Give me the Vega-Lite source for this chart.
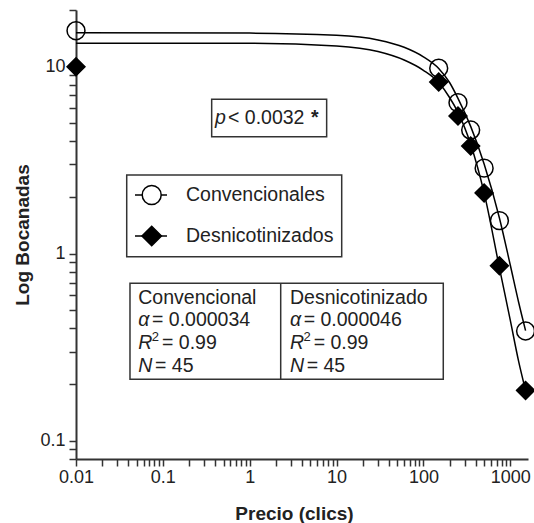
{
  "$schema": "https://vega.github.io/schema/vega-lite/v6.json",
  "width": 452,
  "height": 449,
  "autosize": {"type": "none"},
  "padding": {"left": 76, "top": 10, "right": 6, "bottom": 64},
  "background": "white",
  "config": {"view": {"stroke": null}, "font": "Liberation Sans"},
  "datasets": {
    "pts": [
      {"series": "Convencionales", "x": 0.01, "y": 15.5},
      {"series": "Convencionales", "x": 150, "y": 9.78},
      {"series": "Convencionales", "x": 250, "y": 6.4},
      {"series": "Convencionales", "x": 350, "y": 4.57},
      {"series": "Convencionales", "x": 500, "y": 2.86},
      {"series": "Convencionales", "x": 750, "y": 1.5},
      {"series": "Convencionales", "x": 1500, "y": 0.386},
      {"series": "Desnicotinizados", "x": 0.01, "y": 9.94},
      {"series": "Desnicotinizados", "x": 150, "y": 8.26},
      {"series": "Desnicotinizados", "x": 250, "y": 5.43},
      {"series": "Desnicotinizados", "x": 350, "y": 3.76},
      {"series": "Desnicotinizados", "x": 500, "y": 2.11},
      {"series": "Desnicotinizados", "x": 750, "y": 0.861},
      {"series": "Desnicotinizados", "x": 1500, "y": 0.186}
    ],
    "curves": [
      {"series": "Convencionales", "x": 0.01, "y": 15.1},
      {"series": "Convencionales", "x": 1, "y": 15.05},
      {"series": "Convencionales", "x": 10, "y": 14.66},
      {"series": "Convencionales", "x": 30, "y": 13.84},
      {"series": "Convencionales", "x": 60, "y": 12.65},
      {"series": "Convencionales", "x": 100, "y": 11.25},
      {"series": "Convencionales", "x": 150, "y": 9.75},
      {"series": "Convencionales", "x": 200, "y": 8.2},
      {"series": "Convencionales", "x": 250, "y": 6.75},
      {"series": "Convencionales", "x": 350, "y": 4.78},
      {"series": "Convencionales", "x": 500, "y": 3.01},
      {"series": "Convencionales", "x": 750, "y": 1.55},
      {"series": "Convencionales", "x": 1000, "y": 0.869},
      {"series": "Convencionales", "x": 1250, "y": 0.548},
      {"series": "Convencionales", "x": 1500, "y": 0.388},
      {"series": "Desnicotinizados", "x": 0.01, "y": 13.3},
      {"series": "Desnicotinizados", "x": 1, "y": 13.28},
      {"series": "Desnicotinizados", "x": 10, "y": 12.85},
      {"series": "Desnicotinizados", "x": 30, "y": 12.0},
      {"series": "Desnicotinizados", "x": 60, "y": 10.81},
      {"series": "Desnicotinizados", "x": 100, "y": 9.53},
      {"series": "Desnicotinizados", "x": 150, "y": 8.2},
      {"series": "Desnicotinizados", "x": 200, "y": 6.82},
      {"series": "Desnicotinizados", "x": 250, "y": 5.68},
      {"series": "Desnicotinizados", "x": 350, "y": 3.84},
      {"series": "Desnicotinizados", "x": 500, "y": 2.11},
      {"series": "Desnicotinizados", "x": 750, "y": 0.84},
      {"series": "Desnicotinizados", "x": 1000, "y": 0.441},
      {"series": "Desnicotinizados", "x": 1250, "y": 0.265},
      {"series": "Desnicotinizados", "x": 1500, "y": 0.186}
    ],
    "ital": [
      {"x": 0.3983, "y": 5.302, "t": "p"},
      {"x": 0.05214, "y": 0.4417, "t": "α"},
      {"x": 2.909, "y": 0.4417, "t": "α"},
      {"x": 0.05214, "y": 0.334, "t": "R"},
      {"x": 2.909, "y": 0.334, "t": "R"},
      {"x": 0.05214, "y": 0.2509, "t": "N"},
      {"x": 2.909, "y": 0.2509, "t": "N"}
    ],
    "reg": [
      {"x": 0.5623, "y": 5.302, "t": "< 0.0032"},
      {"x": 0.05214, "y": 0.577, "t": "Convencional"},
      {"x": 2.909, "y": 0.577, "t": "Desnicotinizado"},
      {"x": 0.075, "y": 0.4417, "t": "= 0.000034"},
      {"x": 4.18, "y": 0.4417, "t": "= 0.000046"},
      {"x": 0.0977, "y": 0.334, "t": "= 0.99"},
      {"x": 5.452, "y": 0.334, "t": "= 0.99"},
      {"x": 0.0812, "y": 0.2509, "t": "= 45"},
      {"x": 4.53, "y": 0.2509, "t": "= 45"},
      {"x": 0.1847, "y": 2.056, "t": "Convencionales"},
      {"x": 0.1847, "y": 1.2417, "t": "Desnicotinizados"}
    ],
    "sup": [
      {"x": 0.0744, "y": 0.334, "t": "2"},
      {"x": 4.15, "y": 0.334, "t": "2"}
    ],
    "bold": [
      {"x": 5.076, "y": 5.302, "t": "*"}
    ],
    "boxes": [
      {"x": 0.3649, "x2": 7.69, "y": 6.673, "y2": 4.212},
      {"x": 0.04184, "x2": 169.3, "y": 0.694, "y2": 0.2131},
      {"x": 0.03836, "x2": 11.46, "y": 2.63, "y2": 0.9625}
    ],
    "div": [{"x": 2.274, "y": 0.694, "y2": 0.2131}],
    "legline": [
      {"x": 0.04778, "x2": 0.1116, "y": 2.056},
      {"x": 0.04778, "x2": 0.1116, "y": 1.2417}
    ],
    "legconv": [{"x": 0.0744, "y": 2.056}],
    "legdesn": [{"x": 0.0744, "y": 1.2417}]
  },
  "encoding": {
    "x": {
      "field": "x", "type": "quantitative",
      "scale": {"type": "log", "domain": [0.01, 1600], "nice": false},
      "axis": {
        "values": [0.01,0.02,0.03,0.04,0.05,0.06,0.07,0.08,0.09,0.1,0.2,0.3,0.4,0.5,0.6,0.7,0.8,0.9,1,2,3,4,5,6,7,8,9,10,20,30,40,50,60,70,80,90,100,200,300,400,500,600,700,800,900,1000],
        "labelExpr": "indexof([0.01,0.1,1,10,100,1000], datum.value) >= 0 ? '' + datum.value : ''",
        "tickSize": 7,
        "encode": {"ticks": {"y2": {"condition": {"test": "indexof([0.01,0.1,1,10,100,1000], datum.value) >= 0", "value": 7}, "value": 5}}},
        "title": "Precio (clics)",
        "grid": false,
        "labelFont": "Liberation Sans", "labelFontSize": 18, "labelColor": "#222", "labelPadding": 2,
        "labelFlush": false, "labelOverlap": false,
        "tickColor": "#333", "tickWidth": 1.5, "domainColor": "#333", "domainWidth": 2,
        "titleFont": "Liberation Sans", "titleFontSize": 19, "titleFontWeight": "bold", "titleColor": "#222",
        "titleX": 218, "titleY": 54, "titleBaseline": "middle"
      }
    },
    "y": {
      "field": "y", "type": "quantitative",
      "scale": {"type": "log", "domain": [0.08, 20], "nice": false},
      "axis": {
        "values": [0.08,0.09,0.1,0.2,0.3,0.4,0.5,0.6,0.7,0.8,0.9,1,2,3,4,5,6,7,8,9,10,20],
        "labelExpr": "indexof([0.1,1,10], datum.value) >= 0 ? '' + datum.value : ''",
        "tickSize": 7,
        "encode": {"ticks": {"x2": {"condition": {"test": "indexof([0.1,1,10], datum.value) >= 0", "value": -7}, "value": -5}}},
        "title": "Log Bocanadas",
        "grid": false,
        "labelFont": "Liberation Sans", "labelFontSize": 18, "labelColor": "#222", "labelPadding": 4,
        "labelFlush": false, "labelOverlap": false,
        "tickColor": "#333", "tickWidth": 1.5, "domainColor": "#333", "domainWidth": 2,
        "titleFont": "Liberation Sans", "titleFontSize": 19, "titleFontWeight": "bold", "titleColor": "#222",
        "titleX": -54, "titleBaseline": "middle"
      }
    }
  },
  "layer": [
    {
      "data": {"name": "curves"},
      "mark": {"type": "line", "color": "black", "strokeWidth": 1.5, "interpolate": "monotone"},
      "encoding": {"detail": {"field": "series"}}
    },
    {
      "data": {"name": "pts"},
      "mark": {"type": "point", "filled": true, "stroke": "black", "strokeWidth": 1.5, "size": 320, "opacity": 1},
      "encoding": {
        "shape": {
          "field": "series", "type": "nominal",
          "scale": {"domain": ["Convencionales", "Desnicotinizados"], "range": ["circle", "diamond"]},
          "legend": null
        },
        "fill": {
          "field": "series", "type": "nominal",
          "scale": {"domain": ["Convencionales", "Desnicotinizados"], "range": ["transparent", "black"]},
          "legend": null
        }
      }
    },
    {
      "data": {"name": "boxes"},
      "mark": {"type": "rect", "fill": "white", "fillOpacity": 0, "stroke": "#333", "strokeWidth": 1.5},
      "encoding": {"x2": {"field": "x2"}, "y2": {"field": "y2"}}
    },
    {
      "data": {"name": "div"},
      "mark": {"type": "rule", "color": "#333", "strokeWidth": 1.5},
      "encoding": {"y2": {"field": "y2"}}
    },
    {
      "data": {"name": "legline"},
      "mark": {"type": "rule", "color": "black", "strokeWidth": 1.5},
      "encoding": {"x2": {"field": "x2"}}
    },
    {
      "data": {"name": "legconv"},
      "mark": {"type": "point", "shape": "circle", "filled": true, "fill": "white", "stroke": "black", "strokeWidth": 1.5, "size": 360, "opacity": 1}
    },
    {
      "data": {"name": "legdesn"},
      "mark": {"type": "point", "shape": "diamond", "filled": true, "fill": "black", "stroke": "black", "strokeWidth": 1.5, "size": 380, "opacity": 1}
    },
    {
      "data": {"name": "ital"},
      "mark": {"type": "text", "font": "Liberation Sans", "fontSize": 19.5, "fontStyle": "italic", "align": "left", "baseline": "middle", "color": "#222"},
      "encoding": {"text": {"field": "t"}}
    },
    {
      "data": {"name": "reg"},
      "mark": {"type": "text", "font": "Liberation Sans", "fontSize": 19.5, "align": "left", "baseline": "middle", "color": "#222"},
      "encoding": {"text": {"field": "t"}}
    },
    {
      "data": {"name": "sup"},
      "mark": {"type": "text", "font": "Liberation Sans", "fontSize": 13, "align": "left", "baseline": "middle", "dy": -6, "color": "#222"},
      "encoding": {"text": {"field": "t"}}
    },
    {
      "data": {"name": "bold"},
      "mark": {"type": "text", "font": "Liberation Sans", "fontSize": 19.5, "fontWeight": "bold", "align": "left", "baseline": "middle", "color": "#222"},
      "encoding": {"text": {"field": "t"}}
    }
  ]
}
